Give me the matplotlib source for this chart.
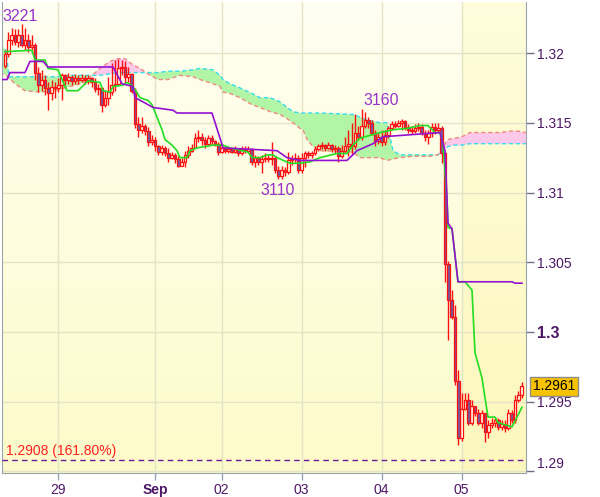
import numpy as np
import matplotlib
matplotlib.use('Agg')
import matplotlib.pyplot as plt
import matplotlib.transforms as mtransforms

# hourly candles; each bar opens at the previous close
first_open = 1.3191
closes = [1.3199, 1.3209, 1.3213, 1.3208, 1.3213, 1.3206, 1.3209, 1.3204, 1.3206, 1.3186,
          1.3177, 1.3181, 1.3175, 1.3171, 1.3176, 1.3175, 1.3177, 1.3184, 1.3181, 1.3183,
          1.3180, 1.3182, 1.3181, 1.3182, 1.3181, 1.3182, 1.3179, 1.3174, 1.3175, 1.3163,
          1.3168, 1.3172, 1.3177, 1.3178, 1.3189, 1.3190, 1.3183, 1.3185, 1.3173, 1.3149,
          1.3145, 1.3148, 1.3144, 1.3136, 1.3138, 1.3133, 1.3129, 1.3132, 1.3128, 1.3125,
          1.3127, 1.3124, 1.3119, 1.3122, 1.3127, 1.3130, 1.3132, 1.3139, 1.3140, 1.3138,
          1.3135, 1.3139, 1.3137, 1.3135, 1.3129, 1.3132, 1.3130, 1.3131, 1.3129, 1.3131,
          1.3128, 1.3131, 1.3130, 1.3131, 1.3122, 1.3125, 1.3122, 1.3124, 1.3125, 1.3124,
          1.3125, 1.3116, 1.3112, 1.3116, 1.3115, 1.3123, 1.3124, 1.3125, 1.3116, 1.3125,
          1.3128, 1.3127, 1.3128, 1.3131, 1.3133, 1.3134, 1.3132, 1.3134, 1.3131, 1.3132,
          1.3126, 1.3130, 1.3133, 1.3135, 1.3133, 1.3143, 1.3140, 1.3148, 1.3152, 1.3150,
          1.3143, 1.3137, 1.3140, 1.3136, 1.3141, 1.3146, 1.3149, 1.3148, 1.3150, 1.3151,
          1.3147, 1.3145, 1.3144, 1.3146, 1.3147, 1.3143, 1.3140, 1.3143, 1.3147, 1.3145,
          1.3146, 1.3128, 1.3049, 1.3023, 1.3011, 1.2965, 1.2924, 1.2945, 1.2951, 1.2935,
          1.2947, 1.2942, 1.2935, 1.2942, 1.2928, 1.2933, 1.2935, 1.2937, 1.2932, 1.2934,
          1.2931, 1.2942, 1.2937, 1.2951, 1.2955, 1.2961]
highs = [1.3202, 1.3215, 1.3218, 1.3217, 1.3217, 1.3221, 1.3218, 1.3214, 1.3213, 1.3207,
         1.3190, 1.3188, 1.3184, 1.3179, 1.3181, 1.3179, 1.3182, 1.3186, 1.3185, 1.3186,
         1.3184, 1.3185, 1.3184, 1.3185, 1.3184, 1.3184, 1.3183, 1.3182, 1.3178, 1.3176,
         1.3173, 1.3183, 1.3193, 1.3195, 1.3196, 1.3195, 1.3194, 1.3190, 1.3186, 1.3175,
         1.3154, 1.3154, 1.3149, 1.3147, 1.3141, 1.3140, 1.3134, 1.3134, 1.3133, 1.3132,
         1.3129, 1.3128, 1.3126, 1.3125, 1.3130, 1.3133, 1.3135, 1.3143, 1.3145, 1.3143,
         1.3140, 1.3141, 1.3141, 1.3138, 1.3136, 1.3135, 1.3133, 1.3133, 1.3132, 1.3133,
         1.3132, 1.3133, 1.3133, 1.3133, 1.3132, 1.3127, 1.3126, 1.3127, 1.3128, 1.3127,
         1.3136, 1.3126, 1.3119, 1.3119, 1.3118, 1.3129, 1.3127, 1.3128, 1.3127, 1.3128,
         1.3130, 1.3130, 1.3130, 1.3133, 1.3135, 1.3136, 1.3135, 1.3136, 1.3135, 1.3134,
         1.3133, 1.3134, 1.3140, 1.3145, 1.3150, 1.3156, 1.3148, 1.3160, 1.3158, 1.3154,
         1.3152, 1.3145, 1.3143, 1.3145, 1.3145, 1.3148, 1.3151, 1.3151, 1.3152, 1.3153,
         1.3152, 1.3149, 1.3148, 1.3149, 1.3150, 1.3149, 1.3145, 1.3145, 1.3150, 1.3150,
         1.3150, 1.3148, 1.3130, 1.3051, 1.3030, 1.3019, 1.2973, 1.2956, 1.2956, 1.2956,
         1.2951, 1.2947, 1.2945, 1.2944, 1.2942, 1.2937, 1.2938, 1.2939, 1.2938, 1.2937,
         1.2937, 1.2945, 1.2944, 1.2955, 1.2958, 1.2964]
lows = [1.3189, 1.3197, 1.3206, 1.3206, 1.3204, 1.3204, 1.3202, 1.3201, 1.3200, 1.3181,
        1.3172, 1.3173, 1.3170, 1.3159, 1.3166, 1.3168, 1.3172, 1.3166, 1.3177, 1.3178,
        1.3177, 1.3178, 1.3178, 1.3179, 1.3178, 1.3178, 1.3176, 1.3172, 1.3170, 1.3158,
        1.3161, 1.3163, 1.3170, 1.3173, 1.3177, 1.3184, 1.3178, 1.3179, 1.3171, 1.3146,
        1.3140, 1.3143, 1.3141, 1.3133, 1.3134, 1.3130, 1.3127, 1.3127, 1.3126, 1.3122,
        1.3124, 1.3121, 1.3118, 1.3119, 1.3118, 1.3125, 1.3129, 1.3132, 1.3136, 1.3134,
        1.3132, 1.3133, 1.3134, 1.3133, 1.3127, 1.3128, 1.3128, 1.3128, 1.3128, 1.3128,
        1.3126, 1.3127, 1.3128, 1.3128, 1.3120, 1.3118, 1.3120, 1.3114, 1.3122, 1.3122,
        1.3120, 1.3114, 1.3110, 1.3110, 1.3112, 1.3113, 1.3120, 1.3122, 1.3114, 1.3114,
        1.3118, 1.3125, 1.3125, 1.3127, 1.3130, 1.3131, 1.3130, 1.3131, 1.3129, 1.3128,
        1.3122, 1.3125, 1.3128, 1.3126, 1.3127, 1.3131, 1.3138, 1.3138, 1.3146, 1.3146,
        1.3141, 1.3133, 1.3135, 1.3133, 1.3134, 1.3139, 1.3145, 1.3146, 1.3147, 1.3145,
        1.3145, 1.3143, 1.3142, 1.3143, 1.3144, 1.3141, 1.3137, 1.3135, 1.3140, 1.3142,
        1.3143, 1.3121, 1.3036, 1.2994, 1.3009, 1.2962, 1.2919, 1.2922, 1.2944, 1.2933,
        1.2933, 1.2940, 1.2933, 1.2931, 1.2921, 1.2924, 1.2931, 1.2932, 1.2930, 1.2930,
        1.2928, 1.2930, 1.2935, 1.2935, 1.2950, 1.2953]

# conversion line (green) and base line (purple), vertices in bar units
tenkan_x = [0.0, 8.1, 9.0, 12.0, 12.9, 15.9, 17.1, 18.6, 21.9, 24.9, 28.5, 29.4, 31.5, 32.4,
            35.4, 36.6, 38.4, 40.5, 42.9, 44.1, 45.6, 47.1, 48.0, 50.1, 51.6, 52.5, 54.6,
            55.5, 57.6, 62.4, 65.4, 67.5, 72.9, 74.1, 76.5, 78.6, 80.4, 81.6, 85.5, 88.5,
            91.5, 94.5, 99.6, 102.6, 104.4, 106.5, 109.5, 112.5, 116.4, 120.6, 124.5, 126.9,
            129.0, 130.5, 131.4, 132.6, 132.9, 134.1, 135.9, 138.0, 140.1, 141.0, 143.1,
            144.9, 147.0, 147.9, 152.1, 153.6, 155.1]
tenkan = [1.3201, 1.3202, 1.3195, 1.3195, 1.3189, 1.3188, 1.3181, 1.3173, 1.3173, 1.3180,
          1.3179, 1.3173, 1.3172, 1.3176, 1.3177, 1.3179, 1.3176, 1.3168, 1.3166, 1.3163,
          1.3154, 1.3145, 1.3138, 1.3134, 1.3130, 1.3125, 1.3125, 1.3130, 1.3132, 1.3134,
          1.3134, 1.3132, 1.3129, 1.3125, 1.3125, 1.3127, 1.3127, 1.3125, 1.3121, 1.3121,
          1.3122, 1.3125, 1.3128, 1.3128, 1.3134, 1.3139, 1.3141, 1.3143, 1.3145, 1.3146,
          1.3148, 1.3148, 1.3143, 1.3143, 1.3135, 1.3095, 1.3075, 1.3074, 1.3036, 1.3036,
          1.3030, 1.2985, 1.2967, 1.2939, 1.2939, 1.2935, 1.2932, 1.2939, 1.2946]
kijun_x = [-1.5, 0.6, 1.5, 6.0, 7.5, 11.4, 12.9, 32.4, 35.1, 38.4, 39.0, 41.4, 44.4, 50.4,
           51.6, 62.1, 64.5, 65.4, 73.5, 81.6, 84.6, 88.5, 102.6, 105.6, 110.4, 113.4,
           130.5, 132.0, 132.9, 134.1, 135.9, 152.1, 153.0, 155.1]
kijun = [1.3181, 1.3181, 1.3186, 1.3186, 1.3194, 1.3194, 1.3190, 1.3190, 1.3178, 1.3176,
         1.3168, 1.3165, 1.3161, 1.3159, 1.3157, 1.3157, 1.3139, 1.3132, 1.3131, 1.3130,
         1.3125, 1.3123, 1.3123, 1.3130, 1.3135, 1.3140, 1.3143, 1.3130, 1.3078, 1.3074,
         1.3036, 1.3036, 1.3035, 1.3035]

# cloud: leading span A (cyan) and leading span B (salmon)
cloud_x = [-1.5, 0.3, 1.2, 3.0, 6.0, 10.5, 15.0, 19.5, 24.0, 26.1, 28.5, 31.5, 33.9, 36.0,
           38.1, 40.5, 42.9, 45.9, 48.9, 52.5, 56.4, 58.5, 62.4, 64.5, 65.4, 67.5, 70.5,
           74.1, 76.5, 79.5, 82.5, 84.6, 86.4, 88.5, 89.4, 90.6, 92.4, 94.5, 104.4, 106.5,
           108.6, 112.5, 114.6, 116.4, 118.5, 122.4, 127.5, 129.9, 131.4, 132.9, 135.0,
           137.1, 139.5, 142.5, 145.5, 148.5, 151.5, 153.9, 156.3]
span_a = [1.3206, 1.3202, 1.3183, 1.3183, 1.3183, 1.3183, 1.3183, 1.3184, 1.3184, 1.3184,
          1.3184, 1.3185, 1.3186, 1.3186, 1.3186, 1.3186, 1.3186, 1.3186, 1.3187, 1.3187,
          1.3188, 1.3189, 1.3188, 1.3184, 1.3181, 1.3178, 1.3175, 1.3171, 1.3168, 1.3168,
          1.3165, 1.3161, 1.3158, 1.3157, 1.3157, 1.3157, 1.3157, 1.3157, 1.3156, 1.3154,
          1.3152, 1.3150, 1.3150, 1.3130, 1.3127, 1.3127, 1.3127, 1.3127, 1.3130, 1.3133,
          1.3134, 1.3134, 1.3135, 1.3135, 1.3135, 1.3135, 1.3135, 1.3135, 1.3135]
span_b = [1.3186, 1.3184, 1.3182, 1.3178, 1.3173, 1.3172, 1.3173, 1.3176, 1.3179, 1.3184,
          1.3189, 1.3194, 1.3196, 1.3196, 1.3192, 1.3189, 1.3185, 1.3181, 1.3181, 1.3184,
          1.3183, 1.3181, 1.3178, 1.3176, 1.3172, 1.3171, 1.3168, 1.3163, 1.3161, 1.3158,
          1.3156, 1.3153, 1.3150, 1.3146, 1.3145, 1.3138, 1.3133, 1.3130, 1.3129, 1.3125,
          1.3125, 1.3125, 1.3123, 1.3124, 1.3125, 1.3126, 1.3126, 1.3127, 1.3133, 1.3138,
          1.3139, 1.3140, 1.3143, 1.3143, 1.3143, 1.3143, 1.3144, 1.3144, 1.3143]

day_ticks = [16, 45, 65, 89, 113, 137]
day_labels = ['29', 'Sep', '02', '03', '04', '05']
price_ticks = [1.29, 1.295, 1.3, 1.305, 1.31, 1.315, 1.32]
price_labels = ['1.29', '1.295', '1.3', '1.305', '1.31', '1.315', '1.32']
last_price = 1.2961
fib_level = 1.2908
fib_text = '1.2908 (161.80%)'

plt.rcParams['font.family'] = ['Liberation Sans', 'DejaVu Sans']
txt_col = '#4e1766'

fig = plt.figure(figsize=(6.0, 4.97), dpi=100)
ax = fig.add_axes([2 / 600, 24 / 497, 524 / 600, 471 / 497])
x0, x1 = -0.9, 156.3
y0, y1 = 1.28989, 1.32366
ax.set_xlim(x0, x1)
ax.set_ylim(y0, y1)

# pale yellow background, the current day a bit warmer
t = np.linspace(0, 1, 200)[:, None, None]
cols = np.linspace(x0, x1, 400)
today = (cols >= 137)[None, :, None]
top = np.where(today, [1.0, 0.99, 0.86], [1.0, 1.0, 0.95])
bot = np.where(today, [0.99, 0.97, 0.74], [0.995, 0.985, 0.79])
bg = top * (1 - t) + bot * t
ax.imshow(bg, extent=(x0, x1, y0, y1), aspect='auto', origin='upper', zorder=0)

ax.set_axisbelow(True)
ax.grid(True, color='#e3e3c6', lw=1)

# cloud
cx = np.array(cloud_x)
a = np.array(span_a)
b = np.array(span_b)
ax.fill_between(cx, a, b, where=a >= b, interpolate=True, color='#b3f5a6', lw=0, zorder=1)
ax.fill_between(cx, a, b, where=a < b, interpolate=True, color='#fdc8ea', lw=0, zorder=1)
ax.plot(cx, a, color='#35dced', lw=1, ls=(0, (3, 2)), zorder=2)
ax.plot(cx, b, color='#f08a80', lw=1, ls=(0, (3, 2)), zorder=2)

# candles
c = np.array(closes)
o = np.concatenate([[first_open], c[:-1]])
h = np.array(highs)
l = np.array(lows)
idx = np.arange(len(c))
ax.vlines(idx, l, h, color='#ff1010', lw=1, zorder=3)
up = c >= o
body_h = np.maximum(np.abs(c - o), 0.00003)
ax.bar(idx[up], body_h[up], bottom=np.minimum(o, c)[up], width=0.72,
       color='#fffce8', edgecolor='#ff1010', lw=0.9, zorder=4)
ax.bar(idx[~up], body_h[~up], bottom=np.minimum(o, c)[~up], width=0.72,
       color='#6f5aa0', edgecolor='#ff1010', lw=0.9, zorder=4)

ax.plot(tenkan_x, tenkan, color='#22dd22', lw=1.2, zorder=5)
ax.plot(kijun_x, kijun, color='#9410d0', lw=1.2, zorder=5)

# swing labels
lab_col = '#9933cc'
ax.text(4.5, 1.32265, '3221', color=lab_col, fontsize=11.5, ha='center', va='center', zorder=6)
ax.text(112.8, 1.3166, '3160', color=lab_col, fontsize=11.5, ha='center', va='center', zorder=6)
ax.text(81.9, 1.31018, '3110', color=lab_col, fontsize=11.5, ha='center', va='center', zorder=6)

# fibonacci level
ax.axhline(fib_level, color='#6a1a9a', lw=1, ls=(0, (4, 3)), zorder=5)
ax.annotate(fib_text, xy=(0, fib_level), xycoords=('axes fraction', 'data'),
            xytext=(3, 2), textcoords='offset points', color='#ff2020',
            fontsize=10, va='bottom', ha='left', zorder=6)

# axes styling
for side in ['left', 'bottom', 'right']:
    ax.spines[side].set_color('#9aa4ae')
ax.spines['top'].set_visible(False)

ax.yaxis.tick_right()
ax.set_yticks(price_ticks)
ax.set_yticklabels(price_labels)
ax.tick_params(axis='y', which='both', direction='out', length=6, width=1,
               colors='#7a6a8a', labelcolor=txt_col, labelsize=10, pad=2)
for lab in ax.get_yticklabels():
    if lab.get_text() == '1.3':
        lab.set_fontweight('bold')
        lab.set_fontsize(11.5)
    if lab.get_text() == '1.29':
        lab.set_va('bottom')

ax.set_xticks(day_ticks)
ax.set_xticklabels(day_labels)
ax.tick_params(axis='x', direction='out', length=5, width=1, colors='#9aa4ae',
               labelcolor=txt_col, labelsize=10, pad=2)
for lab in ax.get_xticklabels():
    if lab.get_text() == 'Sep':
        lab.set_fontweight('bold')

# last price tag
ax.annotate(f'{last_price:.4f}', xy=(1, last_price), xycoords=('axes fraction', 'data'),
            xytext=(5, 0), textcoords='offset points', va='center', ha='left',
            fontsize=10, color='black', annotation_clip=False, zorder=10,
            bbox=dict(boxstyle='square,pad=0.18', fc='#f7c300', ec='#8c8c8c', lw=1))

fig.savefig('out.png', dpi=100, facecolor='white')
